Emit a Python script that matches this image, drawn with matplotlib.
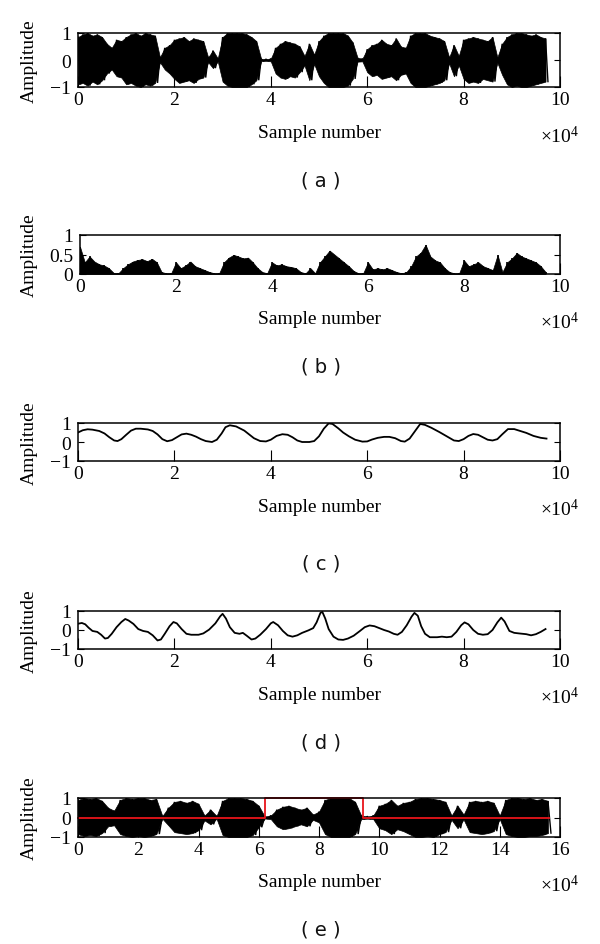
import numpy as np
import matplotlib
matplotlib.use("Agg")
import matplotlib.pyplot as plt

plt.rcParams['font.family'] = ['Liberation Serif', 'DejaVu Serif']
plt.rcParams['mathtext.fontset'] = 'custom'
plt.rcParams['mathtext.rm'] = 'Liberation Serif'
plt.rcParams['mathtext.it'] = 'Liberation Serif:italic'

# ---------------- data ----------------
# (a) speech waveform envelope, sampled every 1000 samples (x in units of 1e4)
a_x = np.arange(98) * 0.1
a_upper = [0.85, 0.95, 1.0, 0.9, 0.95, 0.85,
           0.6, 0.45, 0.75,
           0.7,
           0.85, 0.95, 1.0, 0.9, 1.0, 0.95, 0.9,
           0.1, 0.45, 0.55,
           0.75, 0.8, 0.85, 0.7, 0.8, 0.75, 0.7,
           0.1, 0.35, 0.06,
           0.85, 1.0, 1.0, 1.0, 1.0, 0.95, 0.85, 0.7,
           0.04, 0.03, 0.05,
           0.45, 0.6, 0.7, 0.65, 0.6, 0.5,
           0.15, 0.6, 0.2, 0.7,
           0.9, 1.0, 1.0, 1.0, 1.0, 0.9, 0.65,
           0.08, 0.05,
           0.4, 0.55, 0.6, 0.75, 0.6, 0.55, 0.8, 0.5, 0.45,
           0.9, 1.0, 1.0, 1.0, 0.9, 0.85, 0.8, 0.7,
           0.1, 0.55, 0.15,
           0.75, 0.8, 0.85, 0.8, 0.75, 0.7, 0.85,
           0.1, 0.6,
           0.85, 0.95, 1.0, 1.0, 0.95, 0.9, 0.95, 0.85, 0.8]
a_lower = [0.9, 0.85, 0.95, 0.8, 0.9, 0.75,
           0.5, 0.35, 0.6,
           0.65,
           0.9, 0.85, 0.95, 1.0, 0.9, 0.95, 0.85,
           0.08, 0.35, 0.5,
           0.7, 0.85, 0.8, 0.75, 0.85, 0.7, 0.65,
           0.08, 0.3, 0.05,
           0.8, 0.95, 1.0, 1.0, 1.0, 1.0, 0.9, 0.75,
           0.04, 0.03, 0.05,
           0.5, 0.65, 0.7, 0.6, 0.65, 0.45,
           0.2, 0.75, 0.15, 0.6,
           0.85, 1.0, 1.0, 1.0, 1.0, 0.95, 0.7,
           0.06, 0.05,
           0.45, 0.6, 0.55, 0.7, 0.65, 0.6, 0.75, 0.55, 0.5,
           0.85, 1.0, 1.0, 1.0, 0.95, 0.9, 0.85, 0.75,
           0.12, 0.6, 0.2,
           0.7, 0.85, 0.8, 0.85, 0.7, 0.75, 0.8,
           0.1, 0.55,
           0.9, 1.0, 0.95, 1.0, 1.0, 0.95, 0.9, 0.85, 0.8]

# (b) short-time magnitude, every 1000 samples
b_x = np.arange(98) * 0.1
b_vals = [0.7, 0.3, 0.45, 0.32, 0.25, 0.22, 0.15, 0.03, 0.02,
          0.15, 0.25, 0.32, 0.36, 0.38, 0.33, 0.39, 0.3, 0.05, 0.02, 0.02,
          0.3, 0.15, 0.22, 0.32, 0.2, 0.15, 0.1, 0.05, 0.02, 0.02,
          0.3, 0.42, 0.49, 0.45, 0.4, 0.42, 0.3, 0.15, 0.05, 0.02,
          0.3, 0.22, 0.25, 0.2, 0.18, 0.15, 0.05, 0.02, 0.15, 0.02,
          0.3, 0.45, 0.6, 0.5, 0.4, 0.3, 0.2, 0.08, 0.02, 0.02,
          0.3, 0.12, 0.15, 0.12, 0.15, 0.1, 0.05, 0.02, 0.05,
          0.2, 0.45, 0.55, 0.75, 0.45, 0.35, 0.3, 0.15, 0.05, 0.02, 0.02,
          0.35, 0.2, 0.25, 0.3, 0.2, 0.15, 0.1, 0.49, 0.05,
          0.3, 0.4, 0.54, 0.45, 0.4, 0.35, 0.3, 0.2, 0.05]

# (c) smoothed envelope
c_x = [0.0, 0.1, 0.2, 0.3, 0.44, 0.55, 0.65, 0.75, 0.82, 0.9, 1.0, 1.1, 1.2, 1.3,
       1.45, 1.55, 1.65, 1.75, 1.85, 1.95, 2.05, 2.15, 2.25, 2.35, 2.45, 2.55,
       2.65, 2.78, 2.88, 2.98, 3.06, 3.15, 3.28, 3.45, 3.55, 3.65, 3.78, 3.9,
       4.0, 4.12, 4.24, 4.35, 4.45, 4.55, 4.65, 4.8, 4.9, 5.0, 5.1, 5.2, 5.28,
       5.4, 5.5, 5.62, 5.75, 5.9, 6.0, 6.1, 6.22, 6.35, 6.46, 6.58, 6.7, 6.78,
       6.88, 7.0, 7.1, 7.2, 7.33, 7.5, 7.65, 7.8, 7.9, 8.0, 8.1, 8.2, 8.3, 8.4,
       8.5, 8.6, 8.7, 8.8, 8.92, 9.05, 9.15, 9.3, 9.45, 9.6, 9.72]
c_y = [0.5, 0.62, 0.67, 0.65, 0.58, 0.45, 0.25, 0.08, 0.05, 0.15, 0.38, 0.6, 0.7, 0.7,
       0.66, 0.58, 0.4, 0.15, 0.04, 0.1, 0.25, 0.4, 0.44, 0.38, 0.28, 0.15,
       0.05, 0.0, 0.12, 0.45, 0.78, 0.88, 0.82, 0.6, 0.4, 0.2, 0.05, 0.03,
       0.12, 0.32, 0.41, 0.38, 0.25, 0.08, 0.0, 0.0, 0.05, 0.3, 0.7, 0.98, 0.95,
       0.72, 0.5, 0.3, 0.12, 0.02, 0.03, 0.13, 0.22, 0.27, 0.27, 0.2, 0.05, 0.02,
       0.18, 0.6, 0.95, 0.9, 0.75, 0.52, 0.3, 0.08, 0.05, 0.15, 0.32, 0.42, 0.38, 0.25,
       0.12, 0.08, 0.15, 0.4, 0.68, 0.68, 0.6, 0.48, 0.32, 0.22, 0.18]

# (d) normalized feature curve
d_x = [0.0, 0.08, 0.15, 0.22, 0.3, 0.4, 0.48, 0.56, 0.62, 0.7, 0.8, 0.9, 0.98, 1.05,
       1.15, 1.25, 1.35, 1.45, 1.55, 1.65, 1.72, 1.8, 1.9, 1.98, 2.05, 2.15, 2.25,
       2.35, 2.5, 2.6, 2.72, 2.85, 2.95, 3.0, 3.07, 3.15, 3.25, 3.35, 3.42, 3.5,
       3.6, 3.68, 3.78, 3.9, 4.0, 4.05, 4.15, 4.25, 4.35, 4.45, 4.55, 4.65, 4.78,
       4.88, 4.95, 5.03, 5.07, 5.13, 5.2, 5.3, 5.4, 5.5, 5.6, 5.72, 5.85, 5.95,
       6.05, 6.15, 6.25, 6.35, 6.45, 6.55, 6.63, 6.72, 6.82, 6.92, 6.98, 7.05,
       7.12, 7.2, 7.3, 7.45, 7.55, 7.65, 7.75, 7.85, 7.95, 8.02, 8.1, 8.2, 8.3,
       8.4, 8.5, 8.6, 8.7, 8.78, 8.85, 8.95, 9.05, 9.15, 9.3, 9.4, 9.5, 9.6, 9.7]
d_y = [0.33, 0.37, 0.3, 0.12, -0.05, -0.1, -0.25, -0.45, -0.42, -0.2, 0.15, 0.42, 0.58, 0.5,
       0.32, 0.05, -0.05, -0.1, -0.28, -0.55, -0.5, -0.2, 0.2, 0.42, 0.35, 0.05, -0.2,
       -0.25, -0.25, -0.18, 0.02, 0.35, 0.72, 0.85, 0.6, 0.15, -0.15, -0.2, -0.15, -0.3,
       -0.5, -0.45, -0.25, 0.05, 0.35, 0.42, 0.25, -0.05, -0.28, -0.35, -0.28, -0.15, -0.02,
       0.1, 0.4, 0.9, 0.95, 0.6, 0.05, -0.35, -0.5, -0.52, -0.45, -0.3, -0.05, 0.15,
       0.24, 0.2, 0.1, 0.0, -0.08, -0.2, -0.25, -0.1, 0.25, 0.7, 0.9, 0.75,
       0.2, -0.2, -0.38, -0.38, -0.35, -0.38, -0.35, -0.1, 0.25, 0.4, 0.3, 0.0, -0.2,
       -0.25, -0.22, 0.0, 0.4, 0.65, 0.45, -0.05, -0.15, -0.18, -0.22, -0.28, -0.22, -0.1, 0.05]

# (e) longer waveform envelope, every 2000 samples
e_x = np.arange(79) * 0.2
e_upper = [0.9, 1.0, 0.95, 1.0, 0.85,
           0.5, 0.35,
           0.9, 1.0, 0.95, 1.0, 1.0, 0.9, 0.95,
           0.08, 0.5,
           0.8, 0.85, 0.75, 0.85, 0.7,
           0.1, 0.4, 0.08,
           0.85, 1.0, 1.0, 1.0, 0.95, 0.85,
           0.6, 0.05, 0.1,
           0.4, 0.55, 0.6, 0.5, 0.4,
           0.5, 0.15,
           0.3,
           0.9, 1.0, 1.0, 1.0, 1.0, 0.8,
           0.1, 0.05, 0.1,
           0.6, 0.7, 0.9, 0.6, 0.75,
           0.8, 0.95, 1.0, 1.0, 0.95, 0.9, 0.8,
           0.1, 0.6, 0.15,
           0.8, 0.85, 0.8, 0.85, 0.75,
           0.1,
           0.9, 1.0, 1.0, 0.95, 1.0, 0.9, 0.95, 0.85]
e_lower = [0.85, 0.95, 0.9, 0.95, 0.8,
           0.45, 0.4,
           0.85, 0.95, 1.0, 0.95, 1.0, 0.95, 0.85,
           0.06, 0.4,
           0.75, 0.8, 0.85, 0.8, 0.65,
           0.15, 0.35, 0.06,
           0.9, 1.0, 1.0, 1.0, 1.0, 0.9,
           0.5, 0.05, 0.08,
           0.45, 0.6, 0.55, 0.45, 0.35,
           0.45, 0.12,
           0.25,
           0.85, 1.0, 1.0, 1.0, 1.0, 0.85,
           0.08, 0.06, 0.08,
           0.55, 0.65, 0.85, 0.6, 0.7,
           0.85, 1.0, 1.0, 0.95, 1.0, 0.85, 0.75,
           0.12, 0.55, 0.1,
           0.75, 0.8, 0.85, 0.8, 0.7,
           0.08,
           0.85, 0.95, 1.0, 1.0, 0.95, 0.95, 0.9, 0.8]
# detection window (red) in units of 1e4 samples
e_red_x = [0.0, 6.2, 9.45, 15.65]
e_red_y = [0, 1, 0, 0]

xticks_10 = [0, 2, 4, 6, 8, 10]
xticks_16 = [0, 2, 4, 6, 8, 10, 12, 14, 16]
panel_tags = ['( a )', '( b )', '( c )', '( d )', '( e )']

# ---------------- layout ----------------
W, H = 600, 945
fig = plt.figure(figsize=(W / 100, H / 100), dpi=100)


def px_axes(l, t, r, b):
    return fig.add_axes([l / W, 1 - b / H, (r - l) / W, (b - t) / H])


def fx(x):
    return x / W


def fy(y):
    return 1 - y / H


def draw_wave(ax, xs, upper, lower, step):
    """Envelope filled solid, with each sample drawn as a peak/trough oscillation."""
    xs = np.asarray(xs) * 1e4
    up = np.asarray(upper)
    lo = np.asarray(lower)
    ax.fill_between(xs, -lo, up, color='black', lw=0.5)
    zx = np.empty(2 * len(xs))
    zy = np.empty(2 * len(xs))
    zx[0::2] = xs
    zx[1::2] = xs + step * 1e4 / 2
    zy[0::2] = up
    zy[1::2] = -lo
    ax.plot(zx, zy, color='black', lw=1.0, solid_joinstyle='miter')


boxes = [(78, 34, 560, 88), (80, 236, 560, 275), (78, 424, 560, 462),
         (78, 612, 560, 650), (78, 799, 560, 838)]
tag_y = [181, 367, 564, 743, 930]

TFS = 14
axes = []
for k, (l, t, r, b) in enumerate(boxes):
    ax = px_axes(l, t, r, b)
    axes.append(ax)
    for s in ax.spines.values():
        s.set_linewidth(1.1)
        s.set_color('black')
    ax.tick_params(axis='x', direction='in', length=8, width=0.8, top=False,
                   bottom=True, labelsize=TFS, pad=3)
    ax.tick_params(axis='y', direction='in', length=4.5, width=0.8, left=True,
                   right=True, labelsize=TFS, pad=5)
    ax.set_ylabel('Amplitude', fontsize=TFS)
    ax.yaxis.set_label_coords((38 - l) / (r - l), 0.5)
    fig.text(fx(319), fy(b + 45), 'Sample number', ha='center', va='center', fontsize=TFS)
    fig.text(fx(579), fy(b + 48), r'$\times 10^{4}$', ha='right', va='center', fontsize=TFS)
    fig.text(fx(321), fy(tag_y[k]), panel_tags[k], ha='center', va='center',
             fontsize=14, family='DejaVu Sans', color='#111111')

# (a)
ax = axes[0]
draw_wave(ax, a_x, a_upper, a_lower, 0.1)
ax.set_xlim(0, 10e4)
ax.set_ylim(-1, 1)
ax.set_yticks([-1, 0, 1])
ax.set_yticklabels(['\u22121', '0', '1'])

# (b)
ax = axes[1]
xb = np.array(b_x) * 1e4
bv = np.array(b_vals)
ax.fill_between(xb, 0, bv, color='black', lw=0.5)
ax.vlines(xb, 0, bv, color='black', lw=1.2)
ax.set_xlim(0, 10e4)
ax.set_ylim(0, 1)
ax.set_yticks([0, 0.5, 1])
ax.set_yticklabels(['0', '0.5', '1'])

# (c)
ax = axes[2]
ax.plot(np.array(c_x) * 1e4, c_y, color='black', lw=1.3)
ax.set_xlim(0, 10e4)
ax.set_ylim(-1, 1)
ax.set_yticks([-1, 0, 1])
ax.set_yticklabels(['\u22121', '0', '1'])

# (d)
ax = axes[3]
ax.plot(np.array(d_x) * 1e4, d_y, color='black', lw=1.3)
ax.set_xlim(0, 10e4)
ax.set_ylim(-1, 1)
ax.set_yticks([-1, 0, 1])
ax.set_yticklabels(['\u22121', '0', '1'])

# (e)
ax = axes[4]
draw_wave(ax, e_x, e_upper, e_lower, 0.2)
ax.step(np.array(e_red_x) * 1e4, e_red_y, where='post', color='#e8141a', lw=1.3,
        clip_on=False)
ax.set_xlim(0, 16e4)
ax.set_ylim(-1, 1)
ax.set_yticks([-1, 0, 1])
ax.set_yticklabels(['\u22121', '0', '1'])

for k, ax in enumerate(axes):
    ticks = xticks_16 if k == 4 else xticks_10
    ax.set_xticks(np.array(ticks) * 1e4)
    ax.set_xticklabels([str(t) for t in ticks])

fig.savefig('out.png', dpi=100)
